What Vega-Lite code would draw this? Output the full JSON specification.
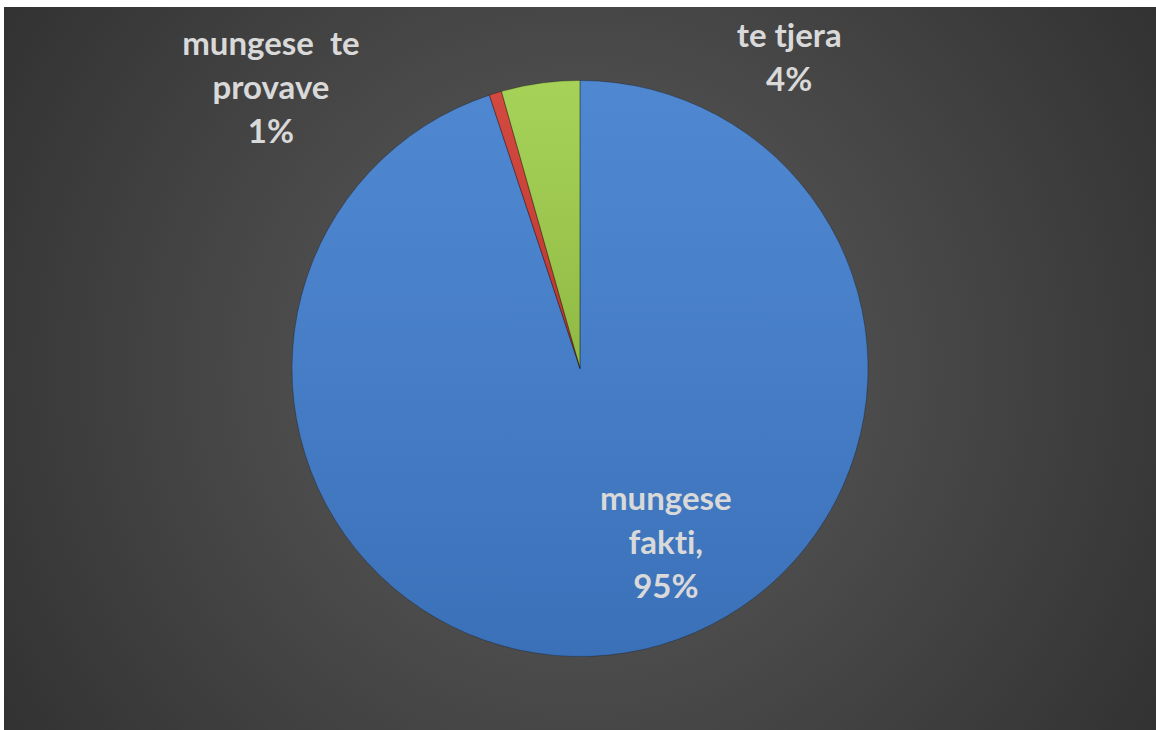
{
  "$schema": "https://vega.github.io/schema/vega-lite/v6.json",
  "width": 1156,
  "height": 730,
  "autosize": {"type": "fit", "contains": "padding"},
  "padding": {"left": 4, "top": 7, "right": 0, "bottom": 0},
  "background": "#ffffff",
  "config": {"view": {"stroke": null}},
  "data": {
    "values": [
      {"cat": "mungese fakti", "value": 94.9, "label": "mungese\nfakt\u200ci,\n95%"},
      {"cat": "mungese te provave", "value": 0.7, "label": "mungese\u00a0 te\nprovave\n1%"},
      {"cat": "te tjera", "value": 4.4, "label": "te tjera\n4%"}
    ]
  },
  "layer": [
    {
      "data": {"values": [{"bg": 1}]},
      "mark": {
        "type": "rect",
        "fill": {
          "gradient": "radial",
          "x1": 0.5, "y1": 0.5, "r1": 0,
          "x2": 0.5, "y2": 0.5, "r2": 0.75,
          "stops": [
            {"offset": 0, "color": "#5e5e5e"},
            {"offset": 1, "color": "#262626"}
          ]
        }
      },
      "encoding": {}
    },
    {
      "mark": {"type": "arc", "outerRadius": 288},
      "encoding": {
        "theta": {"field": "value", "type": "quantitative", "stack": true},
        "color": {
          "field": "cat",
          "type": "nominal",
          "scale": {
            "domain": ["mungese fakti", "mungese te provave", "te tjera"],
            "range": ["#407dcd", "#cf3a30", "#9fce4a"]
          },
          "legend": null
        }
      }
    },
    {
      "mark": {
        "type": "arc",
        "outerRadius": 288,
        "stroke": "rgba(0,0,0,0.25)",
        "strokeWidth": 1,
        "fill": {
          "gradient": "linear",
          "x1": 0, "y1": 0, "x2": 0, "y2": 1,
          "stops": [
            {"offset": 0, "color": "rgba(255,255,255,0.08)"},
            {"offset": 1, "color": "rgba(0,0,0,0.10)"}
          ]
        }
      },
      "encoding": {
        "theta": {"field": "value", "type": "quantitative", "stack": true},
        "detail": {"field": "cat", "type": "nominal"}
      }
    },
    {
      "mark": {"type": "text", "radius": 143, "dx": 63, "align": "center", "baseline": "alphabetic", "lineBreak": "\n", "lineHeight": 44, "font": "Lato", "fontWeight": "bold", "fontSize": 33, "fill": "#d9d9d9"},
      "encoding": {
        "theta": {"field": "value", "type": "quantitative", "stack": true},
        "detail": {"field": "cat", "type": "nominal"},
        "text": {"condition": {"test": "datum.cat === 'mungese fakti'", "field": "label", "type": "nominal"}, "value": ""}
      }
    },
    {
      "mark": {"type": "text", "radius": 330, "dx": -212, "dy": 2, "align": "center", "baseline": "alphabetic", "lineBreak": "\n", "lineHeight": 44, "font": "Lato", "fontWeight": "bold", "fontSize": 33, "fill": "#d9d9d9"},
      "encoding": {
        "theta": {"field": "value", "type": "quantitative", "stack": true},
        "detail": {"field": "cat", "type": "nominal"},
        "text": {"condition": {"test": "datum.cat === 'mungese te provave'", "field": "label", "type": "nominal"}, "value": ""}
      }
    },
    {
      "mark": {"type": "text", "radius": 325, "dx": 254, "dy": 0, "align": "center", "baseline": "alphabetic", "lineBreak": "\n", "lineHeight": 44, "font": "Lato", "fontWeight": "bold", "fontSize": 33, "fill": "#d9d9d9"},
      "encoding": {
        "theta": {"field": "value", "type": "quantitative", "stack": true},
        "detail": {"field": "cat", "type": "nominal"},
        "text": {"condition": {"test": "datum.cat === 'te tjera'", "field": "label", "type": "nominal"}, "value": ""}
      }
    }
  ]
}
